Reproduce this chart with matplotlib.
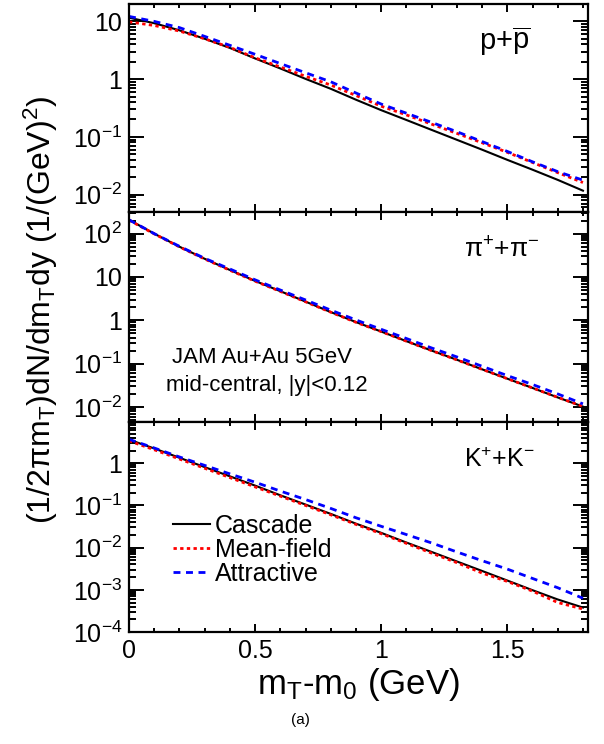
import math
import matplotlib
matplotlib.use('Agg')
import matplotlib.pyplot as plt
from matplotlib.ticker import FixedLocator, FuncFormatter, MultipleLocator, LogLocator, NullFormatter

plt.rcParams['font.family'] = ['Liberation Sans', 'DejaVu Sans']
plt.rcParams['mathtext.default'] = 'regular'

# m_T - m_0 (GeV)
mt = [0.0, 0.1, 0.2, 0.3, 0.4, 0.5, 0.6, 0.7, 0.8, 0.9,
      1.0, 1.1, 1.2, 1.3, 1.4, 1.5, 1.6, 1.7, 1.8]

# p + pbar
p_cascade = [11.6, 9.3, 7.0, 5.0, 3.47, 2.28, 1.53, 1.01, 0.68, 0.44,
             0.29, 0.196, 0.132, 0.089, 0.060, 0.040, 0.027, 0.018, 0.0117]
p_meanfield = [9.8, 8.5, 6.8, 5.0, 3.55, 2.34, 1.62, 1.12, 0.79, 0.52,
               0.34, 0.24, 0.166, 0.115, 0.079, 0.054, 0.036, 0.024, 0.0162]
p_attractive = [12.2, 10.0, 7.8, 5.5, 3.85, 2.69, 1.86, 1.29, 0.90, 0.575,
                0.37, 0.257, 0.178, 0.123, 0.083, 0.056, 0.037, 0.025, 0.0178]

# pi+ + pi-
pi_cascade = [209, 100, 50, 26.3, 14.5, 8.1, 4.7, 2.7, 1.55, 0.91,
              0.55, 0.33, 0.20, 0.123, 0.074, 0.045, 0.0275, 0.0166, 0.0102]
pi_meanfield = [205, 99, 49.5, 26, 14.3, 8.0, 4.65, 2.68, 1.54, 0.90,
                0.55, 0.33, 0.20, 0.122, 0.074, 0.045, 0.0275, 0.0167, 0.0103]
pi_attractive = [209, 100, 51, 27, 15.3, 8.6, 5.0, 2.95, 1.72, 1.02,
                 0.62, 0.38, 0.23, 0.143, 0.087, 0.053, 0.033, 0.020, 0.0118]

# K+ + K-
k_cascade = [3.63, 2.24, 1.35, 0.81, 0.49, 0.295, 0.174, 0.105, 0.063, 0.037,
             0.0224, 0.0132, 0.0079, 0.0047, 0.0028, 0.00166, 0.00098, 0.00059, 0.00038]
k_meanfield = [3.39, 2.09, 1.26, 0.76, 0.457, 0.275, 0.166, 0.100, 0.060, 0.0355,
               0.0214, 0.0126, 0.0074, 0.0044, 0.0025, 0.00158, 0.00093, 0.0005, 0.00035]
k_attractive = [3.7, 2.3, 1.41, 0.89, 0.56, 0.355, 0.219, 0.138, 0.085, 0.051,
                0.032, 0.0204, 0.0129, 0.0079, 0.0049, 0.0031, 0.00186, 0.00112, 0.00063]

panels = [
    (p_cascade, p_meanfield, p_attractive, (0.005, 20), [1e-2, 1e-1, 1, 10],
     r'p+$\overline{p}$', 21, 0.875),
    (pi_cascade, pi_meanfield, pi_attractive, (0.0045, 316), [1e-2, 1e-1, 1, 10, 100],
     r'$\pi^{+}$+$\pi^{-}$', 19, 0.895),
    (k_cascade, k_meanfield, k_attractive, (1e-4, 9.5), [1e-4, 1e-3, 1e-2, 1e-1, 1],
     r'K$^{+}$+K$^{-}$', 18, 0.885),
]


def log_label(v, pos):
    if v == 1:
        return '1'
    if v == 10:
        return '10'
    return r'10$^{%d}$' % int(round(math.log10(v)))


fig = plt.figure(figsize=(6.04, 7.44), dpi=100)
left, width = 129 / 604, 459 / 604
boxes = [(4, 212), (212, 422), (422, 632)]

axes = []
for (top, bot), (casc, mf, attr, ylim, majors, label, lsize, lx) in zip(boxes, panels):
    ax = fig.add_axes([left, 1 - bot / 744, width, (bot - top) / 744])
    ax.plot(mt, casc, color='black', lw=1.5, label='Cascade')
    ax.plot(mt, mf, color='red', lw=2, ls=(0, (1.2, 1.2)), label='Mean-field')
    ax.plot(mt, attr, color='blue', lw=2, ls=(0, (2.5, 2)), label='Attractive')
    ax.set_yscale('log')
    ax.set_xlim(0, 1.82)
    ax.set_ylim(*ylim)
    ax.yaxis.set_major_locator(FixedLocator(majors))
    ax.yaxis.set_major_formatter(FuncFormatter(log_label))
    ax.yaxis.set_minor_locator(LogLocator(base=10, subs=range(2, 10), numticks=20))
    ax.yaxis.set_minor_formatter(NullFormatter())
    ax.xaxis.set_major_locator(MultipleLocator(0.5))
    ax.xaxis.set_minor_locator(MultipleLocator(0.1))
    ax.xaxis.set_major_formatter(FuncFormatter(lambda v, pos: '%g' % v))
    ax.tick_params(which='both', direction='in', top=True, right=True, width=1.4,
                   labelsize=18)
    ax.tick_params(axis='y', which='major', length=10.5, pad=5)
    ax.tick_params(axis='y', which='minor', length=5)
    ax.tick_params(axis='x', which='major', length=5.5, pad=5)
    ax.tick_params(axis='x', which='minor', length=3)
    for s in ax.spines.values():
        s.set_linewidth(1.6)
    ax.text(lx, 0.82, label, transform=ax.transAxes, ha='right', va='center',
            fontsize=lsize)
    axes.append(ax)

axes[0].tick_params(axis='x', labelbottom=False)
axes[1].tick_params(axis='x', labelbottom=False)

axes[1].text(0.29, 0.305, 'JAM Au+Au 5GeV', transform=axes[1].transAxes,
             ha='center', va='center', fontsize=16)
axes[1].text(0.30, 0.175, 'mid-central, |y|<0.12', transform=axes[1].transAxes,
             ha='center', va='center', fontsize=16)

axes[2].legend(loc='lower left', bbox_to_anchor=(0.095, 0.22), frameon=False,
               fontsize=18, handlelength=1.5, handletextpad=0.2,
               labelspacing=0.0, borderaxespad=0, borderpad=0)

axes[2].set_xlabel(r'm$_T$-m$_0$ (GeV)', fontsize=25, labelpad=2)
fig.text(0.068, 1 - 310 / 744, r'(1/2$\pi$m$_T$)dN/dm$_T$dy (1/(GeV)$^2$)', rotation=90,
         ha='center', va='center', fontsize=23)
fig.text(0.497, 1 - 720 / 744, '(a)', ha='center', va='center', fontsize=11)

fig.savefig('out.png', dpi=100)
